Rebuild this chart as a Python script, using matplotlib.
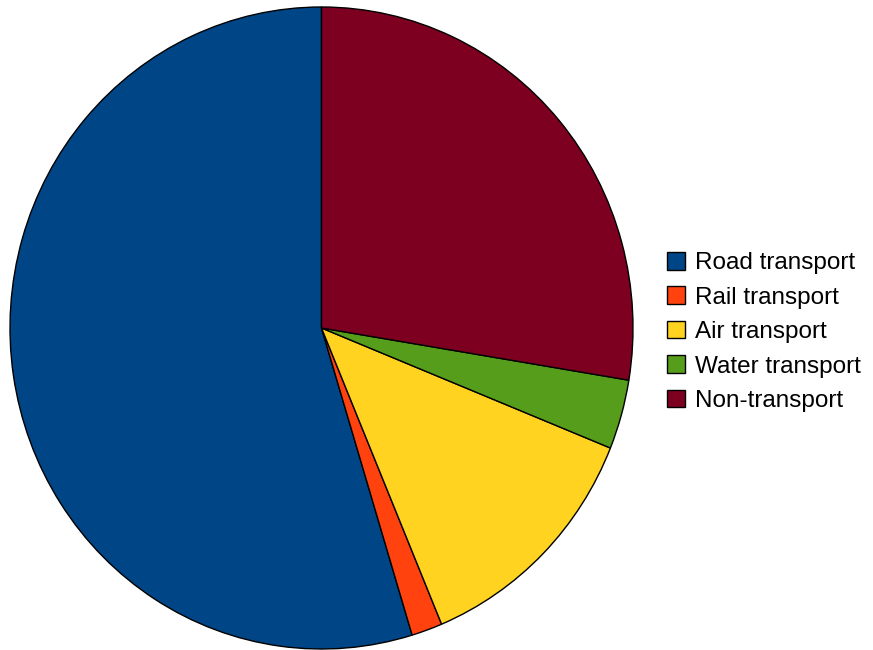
import matplotlib
matplotlib.use("Agg")
import matplotlib.pyplot as plt

# Share of consumption by sector (%)
sectors = ["Road transport", "Rail transport", "Air transport", "Water transport", "Non-transport"]
shares = [54.7, 1.6, 12.6, 3.5, 27.6]
colors = ["#004586", "#ff420e", "#ffd320", "#579d1c", "#7e0021"]

plt.rcParams['font.family'] = ['Liberation Sans', 'DejaVu Sans']

fig = plt.figure(figsize=(8.73, 6.50), dpi=100)
fig.patch.set_facecolor("white")

# pie occupies the left part of the canvas
ax = fig.add_axes([10 / 873, 1 - 649 / 650, 623 / 873, 642 / 650])
wedges, _ = ax.pie(shares, colors=colors, startangle=90, counterclock=True,
                   wedgeprops=dict(edgecolor="black", linewidth=1.0))
ax.set_aspect("auto")
ax.set_xlim(-1, 1)
ax.set_ylim(-1, 1)
ax.axis("off")

fig.legend(wedges, sectors, loc="center left",
           bbox_to_anchor=(667 / 873, 1 - 332 / 650),
           frameon=False, fontsize=17.5, handlelength=0.74, handleheight=0.74,
           handletextpad=0.4, labelspacing=0.5, borderpad=0, borderaxespad=0)

fig.savefig("out.png", dpi=100, facecolor="white")
